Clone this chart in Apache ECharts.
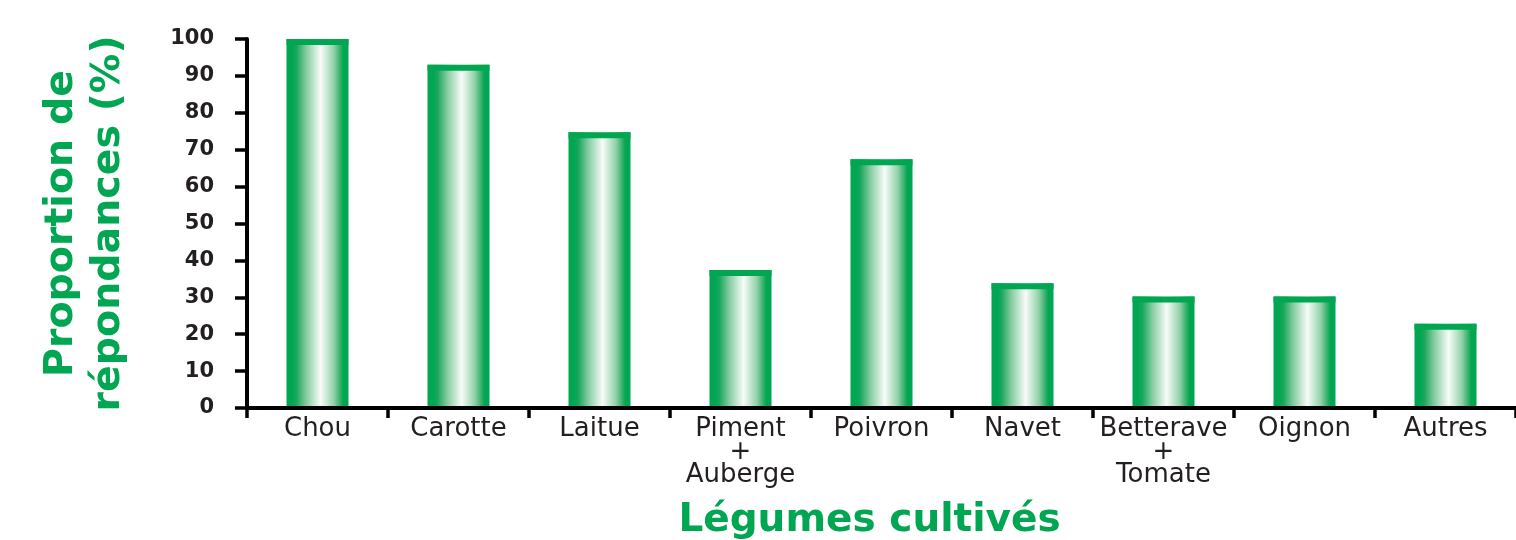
<!DOCTYPE html>
<html>
<head>
<meta charset="utf-8">
<script src="https://cdn.jsdelivr.net/npm/echarts@6/dist/echarts.min.js"></script>
<style>
  html, body { margin: 0; padding: 0; background: #ffffff; }
  #chart { width: 1516px; height: 540px; }
</style>
</head>
<body>
<div id="chart"></div>
<script>
// Data
const categories = ['Chou', 'Carotte', 'Laitue', 'Piment\n+\nAuberge', 'Poivron', 'Navet', 'Betterave\n+\nTomate', 'Oignon', 'Autres'];
const values = [100, 93.0, 74.7, 37.4, 67.4, 33.8, 30.2, 30.2, 22.8];
const yTicks = [0, 10, 20, 30, 40, 50, 60, 70, 80, 90, 100];
const xTitle = 'Légumes cultivés';
const yTitle = 'Proportion de\nrépondances (%)';

const green = '#00a651';
const ink = '#231f20';
const barW = 62;

const chart = echarts.init(document.getElementById('chart'), null, { renderer: 'canvas' });
chart.setOption({
  animation: false,
  backgroundColor: '#ffffff',
  grid: { left: 247, right: 0, top: 39, bottom: 132, containLabel: false, outerBoundsMode: 'none' },
  xAxis: {
    type: 'category',
    data: categories,
    boundaryGap: true,
    z: 5,
    name: xTitle,
    nameLocation: 'middle',
    nameGap: 93,
    nameTextStyle: {
      color: green, fontFamily: 'DejaVu Sans', fontWeight: 'bold', fontSize: 39,
      padding: [0, 24, 0, 0]
    },
    axisLine: { show: true, lineStyle: { color: '#000', width: 4 } },
    axisTick: { show: true, alignWithLabel: false, length: 10, lineStyle: { color: '#000', width: 3.5 } },
    axisLabel: {
      interval: 0, margin: 10, color: ink, fontFamily: 'DejaVu Sans', fontSize: 26, lineHeight: 23
    },
    splitLine: { show: false }
  },
  yAxis: {
    type: 'value',
    min: yTicks[0],
    max: yTicks[yTicks.length - 1],
    interval: yTicks[1] - yTicks[0],
    z: 5,
    name: yTitle,
    nameLocation: 'middle',
    nameGap: 115,
    nameRotate: 90,
    nameTextStyle: {
      color: green, fontFamily: 'DejaVu Sans', fontWeight: 'bold', fontSize: 39.5, lineHeight: 47
    },
    axisLine: { show: true, lineStyle: { color: '#000', width: 4 } },
    axisTick: { show: true, length: 12, lineStyle: { color: '#000', width: 3.5 } },
    axisLabel: { margin: 33, color: ink, fontFamily: 'DejaVu Sans', fontWeight: 'bold', fontSize: 21 },
    splitLine: { show: false }
  },
  series: [{
    type: 'bar',
    data: values,
    barWidth: barW,
    barGap: '-100%',
    itemStyle: {
      color: {
        type: 'linear', x: 0, y: 0, x2: 1, y2: 0,
        colorStops: [
          { offset: 0, color: '#00a651' },
          { offset: 0.09, color: '#00a651' },
          { offset: 0.16, color: '#1aa65d' },
          { offset: 0.32, color: '#86cca0' },
          { offset: 0.55, color: '#f7fcf8' },
          { offset: 0.76, color: '#93d2aa' },
          { offset: 0.88, color: '#2aac63' },
          { offset: 0.92, color: '#00a651' },
          { offset: 1, color: '#00a651' }
        ]
      }
    }
  }, {
    type: 'pictorialBar',
    data: values,
    barWidth: barW,
    barGap: '-100%',
    symbol: 'rect',
    symbolSize: [barW, 6],
    symbolPosition: 'end',
    symbolOffset: [0, 0],
    z: 3,
    itemStyle: { color: green },
    silent: true
  }]
});
</script>
</body>
</html>
